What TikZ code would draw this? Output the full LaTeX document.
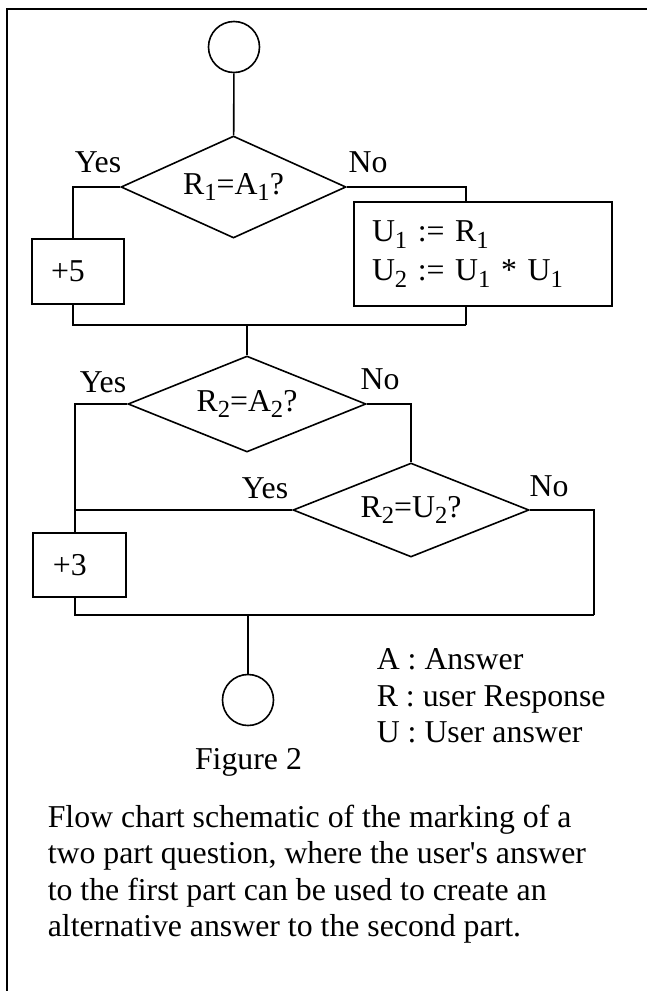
\documentclass[tikz,border=0pt]{standalone}
\usepackage{fontspec}
\setmainfont{Liberation Serif}
\usetikzlibrary{shapes.geometric}
\newcommand{\idx}[1]{\raisebox{-3.4pt}{\fontsize{12.3}{14}\selectfont #1}}

\begin{document}
\begin{tikzpicture}[x=0.5pt, y=-0.5pt, line width=0.8pt,
    every node/.style={font=\fontsize{15.9}{18.25}\selectfont},
    term/.style={draw, circle, inner sep=0pt, minimum size=25.5pt},
    test/.style={draw, diamond, aspect=2.3, inner sep=0pt},
    box/.style={draw, rectangle, align=left, inner ysep=0pt},
    lbl/.style={anchor=base, inner sep=0pt},
    border/.style={line width=1.3pt}]

    % ==================== 0. 画布与外框 ====================
    \useasboundingbox (0,0) rectangle (647,991);
    \draw[border] (7,991) -- (7,9) -- (647,9);

    % ==================== 1. 第一部分：R1 = A1 ? ====================
    % 1. 节点层
    \node[term] (start) at (234,47) {};
    \node[test, minimum width=112.5pt, minimum height=51pt] (d1) at (233.5,187) {R\idx{1}=A\idx{1}?};
    \node[box, minimum height=32.5pt, text width=27pt, inner xsep=9.5pt] (add5) at (78,271.5) {+5};
    \node[box, minimum height=52pt, text width=111pt, inner xsep=9pt] (assign) at (483,254)
        {U\idx{1} := R\idx{1}\\[1.5pt]U\idx{2} := U\idx{1} * U\idx{1}};

    % 2. 分支标签
    \node[lbl] (yes1) at (98,172) {Yes};
    \node[lbl] (no1) at (368,172) {No};

    % 3. 汇合点与连线
    \coordinate (l1) at (73,325);
    \coordinate (r1) at (466,325);
    \draw (start) -- (d1);
    \draw (d1.west) -| (add5.north -| l1);
    \draw (d1.east) -| (assign.north -| r1);
    \draw (add5.south -| l1) |- (r1);
    \draw (assign.south -| r1) -- (r1);

    % ==================== 2. 第二部分：R2 = A2 ? / R2 = U2 ? ====================
    % 1. 节点层
    \node[test, minimum width=119pt, minimum height=48pt] (d2) at (247,404) {R\idx{2}=A\idx{2}?};
    \node[test, minimum width=118pt, minimum height=47pt] (d3) at (411,510) {R\idx{2}=U\idx{2}?};
    \node[box, minimum height=32pt, text width=26.5pt, inner xsep=10pt] (add3) at (79.5,565) {+3};

    % 2. 分支标签
    \node[lbl] (yes2) at (103,392) {Yes};
    \node[lbl] (no2) at (380,389) {No};
    \node[lbl] (yes3) at (265,498) {Yes};
    \node[lbl] (no3) at (549,496) {No};

    % 3. 汇合点与连线
    \coordinate (l2) at (75,615);
    \coordinate (r2) at (594,615);
    \draw (r1 -| d2.north) -- (d2.north);
    \draw (d2.west) -| (add3.north -| l2);
    \draw (d2.east) -| (d3.north);
    \draw (d3.west) -- (d3.west -| l2);
    \draw (d3.east) -| (r2);
    \draw (add3.south -| l2) |- (r2);

    % ==================== 3. 结束、图例与说明 ====================
    \node[term] (stop) at (248,700) {};
    \draw (r2 -| stop.north) -- (stop.north);
    \node[lbl] (fig) at (248.5,769) {Figure 2};
    \node[align=left, anchor=north west, inner sep=0pt] (legend) at (376,648)
        {A : Answer\\R : user Response\\U : User answer};
    \node[align=left, anchor=north west, inner sep=0pt] (caption) at (47,804)
        {Flow chart schematic of the marking of a\\
         two part question, where the user\textquotesingle s answer\\
         to the first part can be used to create an\\
         alternative answer to the second part.};

\end{tikzpicture}
\end{document}
